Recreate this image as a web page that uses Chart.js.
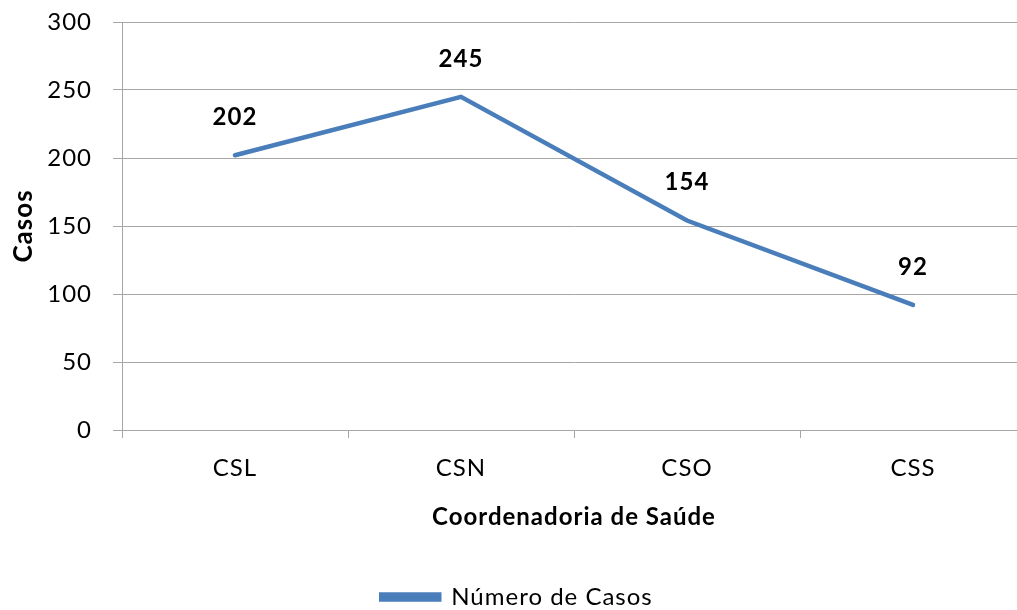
<!DOCTYPE html>
<html>
<head>
<meta charset="utf-8">
<script src="https://cdn.jsdelivr.net/npm/chart.js@4.4.0/dist/chart.umd.min.js"></script>
<style>
html,body{margin:0;padding:0;background:#fff;overflow:hidden;}
#wrap{width:1017px;height:610px;position:relative;overflow:hidden;}
</style>
</head>
<body>
<div id="wrap"><canvas id="c" width="1026" height="610"></canvas></div>
<script>
const categories = ["CSL", "CSN", "CSO", "CSS"];
const casos = [202, 245, 154, 92];
const seriesName = "Número de Casos";
const yTicks = [0, 50, 100, 150, 200, 250, 300];

const FONT = "Lato, 'Open Sans', sans-serif";
const lineColor = "#4A7EBB";

const spacingPlugin = {
  id: 'spacing',
  beforeLayout(chart) { chart.ctx.letterSpacing = '1px'; },
  beforeDraw(chart) { chart.ctx.letterSpacing = '1px'; }
};

const labelPlugin = {
  id: 'pointLabels',
  afterDatasetsDraw(chart) {
    const ctx = chart.ctx;
    const meta = chart.getDatasetMeta(0);
    ctx.save();
    ctx.font = "bold 24px " + FONT;
    ctx.fillStyle = "#000";
    ctx.textAlign = "center";
    ctx.textBaseline = "middle";
    meta.data.forEach((pt, i) => {
      ctx.fillText(String(chart.data.datasets[0].data[i]), pt.x, pt.y - 38);
    });
    ctx.restore();
  }
};

new Chart(document.getElementById('c'), {
  type: 'line',
  data: {
    labels: categories,
    datasets: [{
      label: seriesName,
      data: casos,
      borderColor: lineColor,
      backgroundColor: lineColor,
      borderWidth: 4.5,
      pointRadius: 0,
      tension: 0,
      borderCapStyle: 'round'
    }]
  },
  options: {
    responsive: false,
    animation: false,
    layout: { padding: { top: 22, right: 0, left: 8, bottom: -9 } },
    plugins: {
      legend: {
        position: 'bottom',
        labels: {
          font: { family: FONT, size: 24 },
          color: '#000',
          boxWidth: 58,
          boxHeight: 5,
          padding: 35
        }
      },
      tooltip: { enabled: false }
    },
    scales: {
      x: {
        offset: true,
        grid: { drawOnChartArea: false, drawTicks: true, tickLength: 8, color: '#a6a6a6', offset: true },
        border: { color: '#a6a6a6', width: 1 },
        ticks: { font: { family: FONT, size: 24 }, color: '#000', padding: 16 },
        title: { display: true, text: 'Coordenadoria de Saúde', font: { family: FONT, size: 24, weight: 'bold' }, color: '#000', padding: { top: 14, bottom: 18 } },
        afterFit(scale) { scale.height = 120; scale.paddingLeft = 0; scale.paddingRight = 0; }
      },
      y: {
        min: 0, max: 300,
        afterBuildTicks(scale) { scale.ticks = yTicks.map(v => ({ value: v })); },
        grid: { color: '#a6a6a6', drawTicks: true, tickLength: 9 },
        border: { color: '#a6a6a6', width: 1 },
        ticks: { font: { family: FONT, size: 24 }, color: '#000', padding: 21 },
        title: { display: true, text: 'Casos', font: { family: FONT, size: 26, weight: 'bold' }, color: '#000', padding: 0 },
        afterFit(scale) { scale.width = 114; scale.paddingTop = 0; scale.paddingBottom = 0; }
      }
    }
  },
  plugins: [spacingPlugin, labelPlugin]
});
</script>
</body>
</html>
